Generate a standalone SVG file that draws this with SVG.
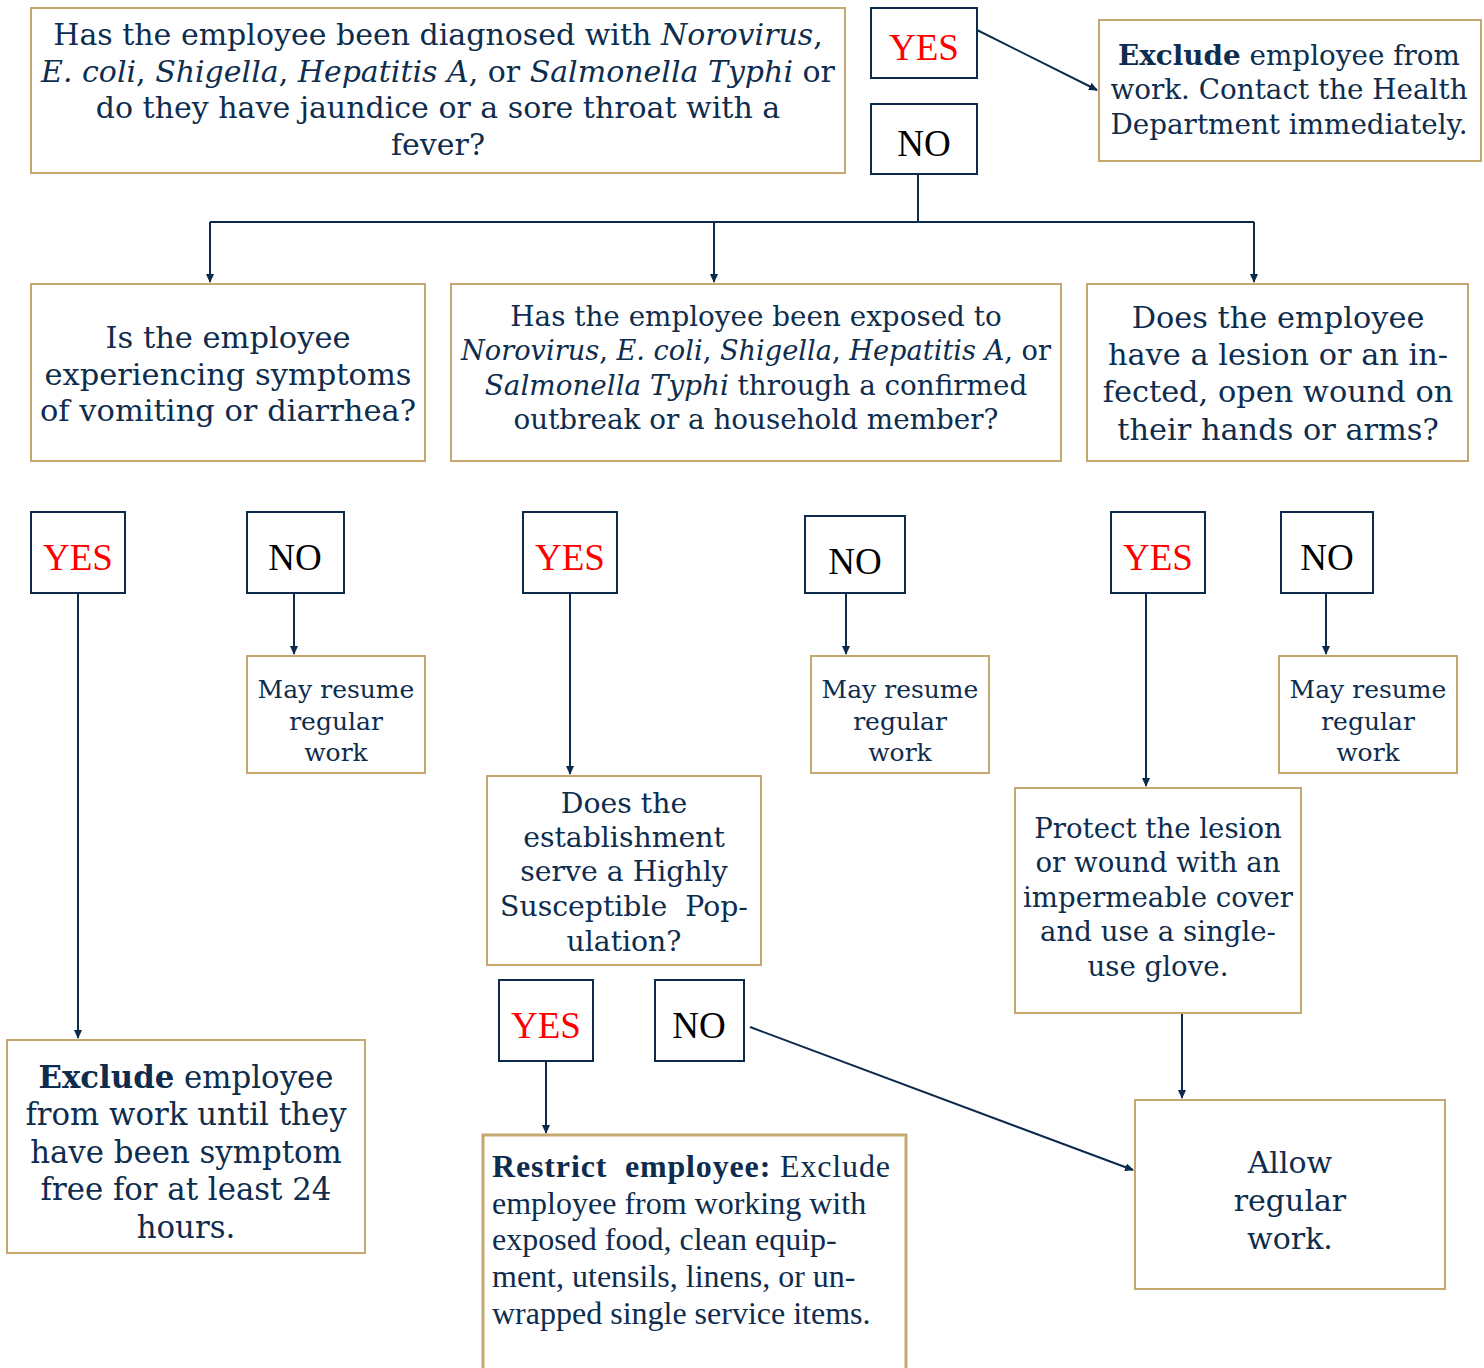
<svg xmlns="http://www.w3.org/2000/svg" width="1484" height="1368" viewBox="0 0 1484 1368">
<style>
.q{fill:#fff;stroke:#c4a870;stroke-width:2}
.yn{fill:#fff;stroke:#0b2a4c;stroke-width:2}
.t{font-family:"DejaVu Serif",serif;fill:#0e2d4e;text-anchor:middle}
.r{font-family:"Liberation Serif",serif;fill:#0e2d4e}
.yes{font-family:"Liberation Serif",serif;fill:#ff0000;font-size:37px;text-anchor:middle}
.no{font-family:"Liberation Serif",serif;fill:#000;font-size:37px;text-anchor:middle}
.c{fill:none;stroke:#0b2a4c;stroke-width:2;marker-end:url(#ah)}
.l{fill:none;stroke:#0b2a4c;stroke-width:2}
</style>
<defs>
<marker id="ah" markerWidth="10" markerHeight="10" refX="8" refY="5" orient="auto" markerUnits="userSpaceOnUse">
<path d="M0,1 L9,5 L0,9 Z" fill="#0b2a4c"/>
</marker>
</defs>
<rect width="1484" height="1368" fill="#fff"/>
<g id="connectors">
<path class="c" d="M977,30 L1097,90"/>
<path class="l" d="M918,174 V222 M210,222 H1254"/>
<path class="c" d="M210,222 V282"/>
<path class="c" d="M714,222 V282"/>
<path class="c" d="M1254,222 V282"/>
<path class="c" d="M78,593 V1038"/>
<path class="c" d="M294,593 V654"/>
<path class="c" d="M570,593 V774"/>
<path class="c" d="M846,593 V654"/>
<path class="c" d="M1146,593 V786"/>
<path class="c" d="M1326,593 V654"/>
<path class="c" d="M546,1061 V1133"/>
<path class="c" d="M750,1027 L1133,1170"/>
<path class="c" d="M1182,1013 V1098"/>
</g>
<g id="q1">
<rect class="q" x="31" y="8" width="814" height="165"/>
<text class="t" font-size="30"><tspan x="438" y="45">Has the employee been diagnosed with <tspan font-style="italic">Norovirus</tspan>,</tspan><tspan x="438" y="82"><tspan font-style="italic">E. coli</tspan>, <tspan font-style="italic">Shigella</tspan>, <tspan font-style="italic">Hepatitis A</tspan>, or <tspan font-style="italic">Salmonella Typhi</tspan> or</tspan><tspan x="438" y="118">do they have jaundice or a sore throat with a</tspan><tspan x="438" y="155">fever?</tspan></text>
</g>
<g id="yes-top"><rect class="yn" x="871" y="8" width="106" height="70"/><text class="yes" x="924" y="60">YES</text></g>
<g id="no-top"><rect class="yn" x="871" y="104" width="106" height="70"/><text class="no" x="924" y="156">NO</text></g>
<g id="exclude-top">
<rect class="q" x="1099" y="20" width="382" height="141"/>
<text class="t" font-size="27.8"><tspan x="1289" y="65"><tspan font-weight="bold">Exclude</tspan> employee from</tspan><tspan x="1289" y="99">work. Contact the Health</tspan><tspan x="1289" y="134">Department immediately.</tspan></text>
</g>
<g id="q-vomit">
<rect class="q" x="31" y="284" width="394" height="177"/>
<text class="t" font-size="30.5"><tspan x="228" y="348">Is the employee</tspan><tspan x="228" y="385">experiencing symptoms</tspan><tspan x="228" y="421">of vomiting or diarrhea?</tspan></text>
</g>
<g id="q-exposed">
<rect class="q" x="451" y="284" width="610" height="177"/>
<text class="t" font-size="27.8"><tspan x="756" y="326">Has the employee been exposed to</tspan><tspan x="461" y="360" text-anchor="start" textLength="590" lengthAdjust="spacingAndGlyphs"><tspan font-style="italic">Norovirus</tspan>, <tspan font-style="italic">E. coli</tspan>, <tspan font-style="italic">Shigella</tspan>, <tspan font-style="italic">Hepatitis A</tspan>, or</tspan><tspan x="756" y="395"><tspan font-style="italic">Salmonella Typhi</tspan> through a confirmed</tspan><tspan x="756" y="429">outbreak or a household member?</tspan></text>
</g>
<g id="q-lesion">
<rect class="q" x="1087" y="284" width="381" height="177"/>
<text class="t" font-size="30.4"><tspan x="1278" y="328">Does the employee</tspan><tspan x="1278" y="365">have a lesion or an in-</tspan><tspan x="1278" y="402">fected, open wound on</tspan><tspan x="1278" y="440">their hands or arms?</tspan></text>
</g>
<g id="yes-1"><rect class="yn" x="31" y="512" width="94" height="81"/><text class="yes" x="78" y="570">YES</text></g>
<g id="no-1"><rect class="yn" x="247" y="512" width="97" height="81"/><text class="no" x="295" y="570">NO</text></g>
<g id="yes-2"><rect class="yn" x="523" y="512" width="94" height="81"/><text class="yes" x="570" y="570">YES</text></g>
<g id="no-2"><rect class="yn" x="805" y="516" width="100" height="77"/><text class="no" x="855" y="574">NO</text></g>
<g id="yes-3"><rect class="yn" x="1111" y="512" width="94" height="81"/><text class="yes" x="1158" y="570">YES</text></g>
<g id="no-3"><rect class="yn" x="1281" y="512" width="92" height="81"/><text class="no" x="1327" y="570">NO</text></g>
<g id="resume-1">
<rect class="q" x="247" y="656" width="178" height="117"/>
<text class="t" font-size="25"><tspan x="336" y="698">May resume</tspan><tspan x="336" y="730">regular</tspan><tspan x="336" y="761">work</tspan></text>
</g>
<g id="resume-2">
<rect class="q" x="811" y="656" width="178" height="117"/>
<text class="t" font-size="25"><tspan x="900" y="698">May resume</tspan><tspan x="900" y="730">regular</tspan><tspan x="900" y="761">work</tspan></text>
</g>
<g id="resume-3">
<rect class="q" x="1279" y="656" width="178" height="117"/>
<text class="t" font-size="25"><tspan x="1368" y="698">May resume</tspan><tspan x="1368" y="730">regular</tspan><tspan x="1368" y="761">work</tspan></text>
</g>
<g id="q-hsp">
<rect class="q" x="487" y="776" width="274" height="189"/>
<text class="t" font-size="28.3" xml:space="preserve"><tspan x="624" y="813">Does the</tspan><tspan x="624" y="847">establishment</tspan><tspan x="624" y="881">serve a Highly</tspan><tspan x="624" y="916">Susceptible  Pop-</tspan><tspan x="624" y="951">ulation?</tspan></text>
</g>
<g id="protect">
<rect class="q" x="1015" y="788" width="286" height="225"/>
<text class="t" font-size="27.6"><tspan x="1158" y="838">Protect the lesion</tspan><tspan x="1158" y="872">or wound with an</tspan><tspan x="1158" y="907">impermeable cover</tspan><tspan x="1158" y="941">and use a single-</tspan><tspan x="1158" y="976">use glove.</tspan></text>
</g>
<g id="exclude-24">
<rect class="q" x="7" y="1040" width="358" height="213"/>
<text class="t" font-size="30.8"><tspan x="186" y="1088"><tspan font-weight="bold">Exclude</tspan> employee</tspan><tspan x="186" y="1125">from work until they</tspan><tspan x="186" y="1163">have been symptom</tspan><tspan x="186" y="1200">free for at least 24</tspan><tspan x="186" y="1238">hours.</tspan></text>
</g>
<g id="yes-4"><rect class="yn" x="499" y="980" width="94" height="81"/><text class="yes" x="546" y="1038">YES</text></g>
<g id="no-4"><rect class="yn" x="655" y="980" width="89" height="81"/><text class="no" x="699" y="1038">NO</text></g>
<g id="restrict">
<rect x="483" y="1135" width="423" height="240" fill="#fff" stroke="#c4a870" stroke-width="3"/>
<text class="r" font-size="32" xml:space="preserve"><tspan x="492" y="1177" textLength="398" lengthAdjust="spacing"><tspan font-weight="bold">Restrict  employee:</tspan> Exclude</tspan><tspan x="492" y="1214">employee from working with</tspan><tspan x="492" y="1250">exposed food, clean equip-</tspan><tspan x="492" y="1287">ment, utensils, linens, or un-</tspan><tspan x="492" y="1324">wrapped single service items.</tspan></text>
</g>
<g id="allow">
<rect class="q" x="1135" y="1100" width="310" height="189"/>
<text class="t" font-size="30"><tspan x="1290" y="1173">Allow</tspan><tspan x="1290" y="1211">regular</tspan><tspan x="1290" y="1249">work.</tspan></text>
</g>
</svg>
